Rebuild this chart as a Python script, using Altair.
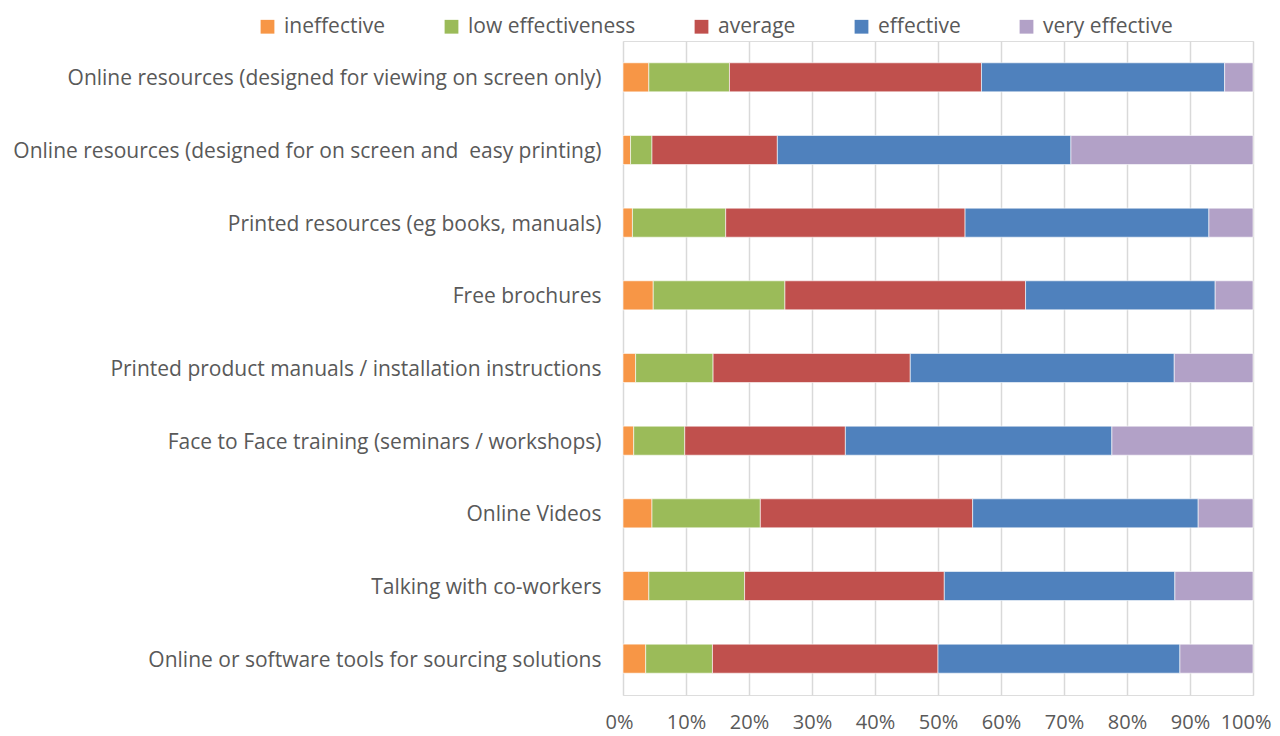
import altair as alt
import pandas as pd

categories = [
    "Online resources (designed for viewing on screen only)",
    "Online resources (designed for on screen and\u00a0 easy printing)",
    "Printed resources (eg books, manuals)",
    "Free brochures",
    "Printed product manuals / installation instructions",
    "Face to Face training (seminars / workshops)",
    "Online Videos",
    "Talking with co-workers",
    "Online or software tools for sourcing solutions",
]
levels = ["ineffective", "low effectiveness", "average", "effective", "very effective"]
colors = ["#F79646", "#9BBB59", "#C0504D", "#4F81BD", "#B2A1C7"]

ineffective = [4.1, 1.2, 1.5, 4.8, 2.0, 1.7, 4.6, 4.1, 3.6]
low_effectiveness = [12.8, 3.4, 14.8, 20.9, 12.3, 8.1, 17.2, 15.2, 10.6]
average = [40.0, 19.9, 38.0, 38.2, 31.3, 25.5, 33.7, 31.7, 35.8]
effective = [38.6, 46.6, 38.7, 30.1, 41.9, 42.3, 35.8, 36.6, 38.4]
very_effective = [4.5, 28.9, 7.0, 6.0, 12.5, 22.4, 8.7, 12.4, 11.6]

series = [ineffective, low_effectiveness, average, effective, very_effective]
rows = []
for lvl_i, (lvl, vals) in enumerate(zip(levels, series)):
    for cat, v in zip(categories, vals):
        rows.append({"category": cat, "level": lvl, "order": lvl_i, "value": v})
df = pd.DataFrame(rows)

FONT = "Open Sans"
TXT = "#595959"

chart = (
    alt.Chart(df)
    .mark_bar(stroke="white", strokeWidth=0.6)
    .encode(
        y=alt.Y(
            "category:N",
            sort=categories,
            scale=alt.Scale(paddingInner=0.6, paddingOuter=0.3),
            axis=alt.Axis(
                title=None,
                ticks=False,
                domain=False,
                labelFont=FONT,
                labelFontSize=21,
                labelColor=TXT,
                labelPadding=22,
                labelLimit=700,
                labelOffset=2,
                grid=False,
            ),
        ),
        x=alt.X(
            "value:Q",
            stack="normalize",
            scale=alt.Scale(domain=[0, 1]),
            axis=alt.Axis(
                title=None,
                format=".0%",
                values=[i / 10 for i in range(11)],
                ticks=False,
                domain=False,
                grid=True,
                gridColor="#D9D9D9",
                gridWidth=1.5,
                labelFont=FONT,
                labelFontSize=20,
                labelColor=TXT,
                labelPadding=17,
                labelFlush=1,
                labelFlushOffset=18,
            ),
        ),
        color=alt.Color(
            "level:N",
            sort=levels,
            scale=alt.Scale(domain=levels, range=colors),
            legend=alt.Legend(
                title=None,
                orient="none",
                direction="horizontal",
                legendX=-366,
                legendY=-25,
                symbolType="square",
                symbolSize=190,
                symbolStrokeWidth=0,
                labelFont=FONT,
                labelFontSize=21,
                labelColor=TXT,
                labelOffset=6,
                labelLimit=300,
                columnPadding=55,
            ),
        ),
        order=alt.Order("order:Q", sort="ascending"),
    )
    .properties(
        width=630,
        height=654,
        autosize=alt.AutoSizeParams(type="none"),
        padding={"left": 615, "top": 33, "right": 19, "bottom": 40},
    )
    .configure_view(stroke=None)
    .configure(background="white")
)

chart.save("out.html", embed_options={"renderer": "svg", "actions": False})
